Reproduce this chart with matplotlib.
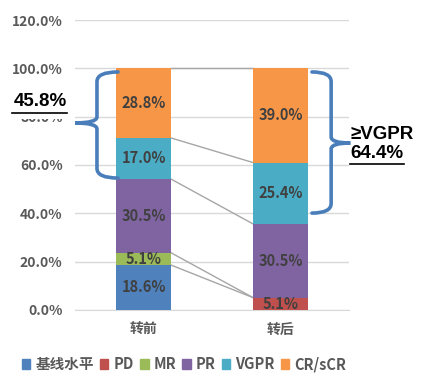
import matplotlib
matplotlib.use("Agg")
from matplotlib import pyplot as plt
from matplotlib.path import Path
from matplotlib.patches import PathPatch, Patch, Rectangle
import numpy as np

plt.rcParams['font.family'] = ['Noto Sans CJK SC', 'DejaVu Sans']

categories = ["转前", "转后"]
series_names = ["基线水平", "PD", "MR", "PR", "VGPR", "CR/sCR"]
values = np.array([
    [18.6, 0.0],   # 基线水平
    [0.0, 5.1],    # PD
    [5.1, 0.0],    # MR
    [30.5, 30.5],  # PR
    [17.0, 25.4],  # VGPR
    [28.8, 39.0],  # CR/sCR
])
colors = ["#4F81BD", "#C0504D", "#9BBB59", "#8064A2", "#4BACC6", "#F79646"]
yticks = [0, 20, 40, 60, 80, 100, 120]

fig = plt.figure(figsize=(4.24, 3.78), dpi=100)
ax = fig.add_axes([0.177, 0.180, 0.646, 0.767])

x = np.arange(len(categories))
width = 0.4
bottom = np.zeros(len(categories))
tops = []
for name, vals, c in zip(series_names, values, colors):
    ax.bar(x, vals, width, bottom=bottom, color=c, label=name, zorder=3)
    for xi, v, b in zip(x, vals, bottom):
        if v > 0:
            ax.text(xi, b + v / 2, f"{v:.1f}%", ha="center", va="center",
                    fontsize=10.5, fontweight="bold", color="#404040", zorder=4)
    bottom = bottom + vals
    tops.append(bottom.copy())

# series lines between bars
for t in tops[1:]:
    ax.plot([x[0] + width / 2, x[1] - width / 2], [t[0], t[1]],
            color="#A6A6A6", lw=1, zorder=2)

ax.set_xlim(-0.5, 1.5)
ax.set_ylim(0, 120)
ax.set_yticks(yticks)
ax.set_yticklabels([f"{v:.1f}%" for v in yticks])
ax.set_xticks(x)
ax.set_xticklabels(categories)
ax.grid(axis="y", color="#D9D9D9", lw=1, zorder=0)
for s in ["top", "right", "left"]:
    ax.spines[s].set_visible(False)
ax.spines["bottom"].set_color("#D9D9D9")
ax.tick_params(length=0, labelsize=10, labelcolor="#595959", pad=9)
for lab in ax.get_xticklabels() + ax.get_yticklabels():
    lab.set_fontweight("bold")


def brace(x_end, x_mid, x_tip, y0, y1, ytip, r=4, r2=2.5):
    verts = [(x_end, y1), (x_mid, y1), (x_mid, y1 - r),
             (x_mid, ytip + r2), (x_mid, ytip), (x_tip, ytip),
             (x_mid, ytip), (x_mid, ytip - r2),
             (x_mid, y0 + r), (x_mid, y0), (x_end, y0)]
    codes = [Path.MOVETO, Path.CURVE3, Path.CURVE3,
             Path.LINETO, Path.CURVE3, Path.CURVE3,
             Path.CURVE3, Path.CURVE3,
             Path.LINETO, Path.CURVE3, Path.CURVE3]
    ax.add_patch(PathPatch(Path(verts, codes), fill=False, ec="#4A7EBB",
                           lw=2.6, clip_on=False, zorder=5, capstyle="round"))


brace(-0.186, -0.34, -0.5, 54.6, 98.5, 77.4)
brace(1.23, 1.37, 1.51, 40.1, 98.5, 69.1)

# white box hiding most of the 80.0% tick label, as in the original
fig.patches.append(Rectangle((0.01, 1 - 119 / 378), 0.155, 30 / 378,
                             transform=fig.transFigure, fc="white", ec="none",
                             zorder=1))
fig.text(67 / 424, 1 - 101 / 378, "45.8%", ha="right", va="center", fontsize=13.5,
         fontweight="bold", color="black", zorder=2,
         family=['Liberation Sans', 'DejaVu Sans'])
fig.lines.append(plt.Line2D([12 / 424, 67 / 424], [1 - 113 / 378, 1 - 113 / 378],
                            transform=fig.transFigure, color="black", lw=1.2,
                            zorder=3))

ax.text(1.51, 68.7, "≥VGPR\n64.4%", ha="left", va="center", fontsize=13.5,
        fontweight="bold", color="black", linespacing=1.1, clip_on=False,
        family=['Liberation Sans', 'DejaVu Sans'])
ax.plot([1.51, 1.905], [60.4, 60.4], color="black", lw=1.2, clip_on=False)

handles = [Patch(color=c) for c in colors]
leg = fig.legend(handles, series_names, loc="center", bbox_to_anchor=(0.434, 0.037),
                 ncol=6, frameon=False, handlelength=0.6, handleheight=0.6,
                 handletextpad=0.35, columnspacing=0.4, fontsize=10.5)
for t in leg.get_texts():
    t.set_color("#595959")
    t.set_fontweight("bold")

fig.savefig("out.png", dpi=100)
